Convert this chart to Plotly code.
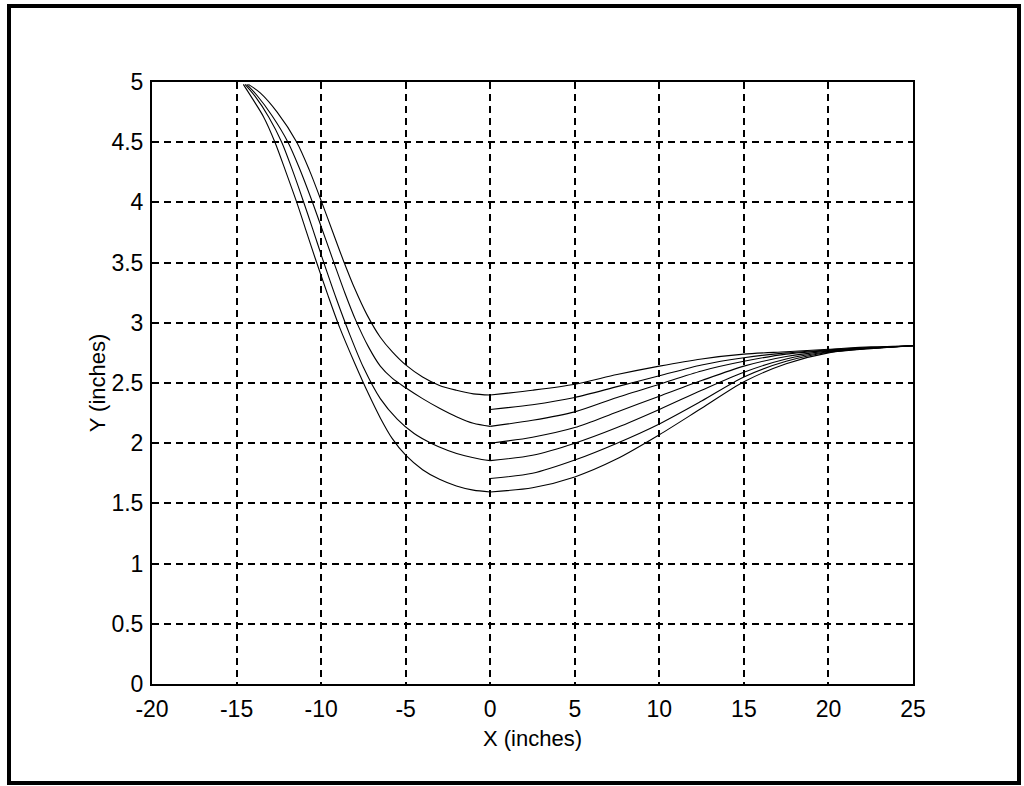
import plotly.graph_objects as go

# ---- data ----
# left branch (upstream) curves: x and y
left_a_x = [-14.3, -13.6, -12.6, -11.44, -10.7, -9.96, -9.3, -8.69, -8.0, -7.3, -6.5, -5.8, -5.0, -4.0, -3.0, -2.0, -1.0, 0.0]
left_a_y = [4.98, 4.91, 4.75, 4.50, 4.27, 4.00, 3.75, 3.52, 3.28, 3.07, 2.88, 2.76, 2.65, 2.55, 2.48, 2.44, 2.41, 2.40]

left_b_x = [-14.4, -13.8, -12.9, -11.96, -11.3, -10.56, -10.0, -9.37, -8.6, -7.95, -7.2, -6.5, -5.8, -5.0, -4.0, -3.0, -2.0, -1.0, 0.0]
left_b_y = [4.98, 4.89, 4.72, 4.50, 4.29, 4.02, 3.80, 3.55, 3.25, 3.02, 2.80, 2.64, 2.54, 2.46, 2.37, 2.29, 2.22, 2.165, 2.14]

left_c_x = [-14.5, -13.9, -13.1, -12.33, -11.7, -11.05, -10.5, -9.96, -9.1, -8.3, -7.5, -6.5, -5.5, -4.5, -3.5, -2.5, -1.5, -0.5, 0.0]
left_c_y = [4.98, 4.88, 4.71, 4.50, 4.27, 4.01, 3.78, 3.55, 3.20, 2.90, 2.63, 2.37, 2.20, 2.08, 2.00, 1.94, 1.895, 1.865, 1.855]

left_d_x = [-14.6, -14.1, -13.4, -12.73, -12.1, -11.44, -10.9, -10.36, -9.6, -8.9, -8.0, -7.2, -6.5, -5.8, -5.0, -4.0, -3.0, -2.0, -1.0, 0.0]
left_d_y = [4.98, 4.87, 4.71, 4.50, 4.26, 4.00, 3.77, 3.54, 3.23, 2.96, 2.66, 2.41, 2.21, 2.04, 1.90, 1.78, 1.70, 1.645, 1.61, 1.595]

# right branch (downstream) curves, common x
right_x = [0, 2.5, 5, 7.5, 10, 12.5, 15, 17.5, 20, 22.5, 25]
right_1 = [2.40, 2.44, 2.49, 2.57, 2.64, 2.70, 2.74, 2.76, 2.78, 2.80, 2.81]
right_2 = [2.28, 2.32, 2.38, 2.47, 2.56, 2.65, 2.71, 2.75, 2.775, 2.795, 2.81]
right_3 = [2.14, 2.19, 2.26, 2.38, 2.49, 2.60, 2.68, 2.74, 2.77, 2.79, 2.81]
right_4 = [2.00, 2.05, 2.13, 2.26, 2.39, 2.52, 2.64, 2.72, 2.765, 2.79, 2.81]
right_5 = [1.855, 1.90, 2.00, 2.13, 2.28, 2.44, 2.59, 2.70, 2.76, 2.79, 2.81]
right_6 = [1.707, 1.75, 1.86, 2.00, 2.16, 2.35, 2.55, 2.68, 2.755, 2.79, 2.81]
right_7 = [1.595, 1.63, 1.72, 1.87, 2.07, 2.29, 2.51, 2.66, 2.75, 2.785, 2.81]

x_ticks = [-20, -15, -10, -5, 0, 5, 10, 15, 20, 25]
x_tick_text = ["-20", "-15", "-10", "-5", "0", "5", "10", "15", "20", "25"]
y_ticks = [0, 0.5, 1, 1.5, 2, 2.5, 3, 3.5, 4, 4.5, 5]
y_tick_text = ["0", "0.5", "1", "1.5", "2", "2.5", "3", "3.5", "4", "4.5", "5"]

FONT = "Liberation Sans, Arial, sans-serif"

fig = go.Figure()
line_style = dict(color="black", width=1.1, shape="spline", smoothing=0.8)

for xs, ys in [(left_a_x, left_a_y), (left_b_x, left_b_y), (left_c_x, left_c_y), (left_d_x, left_d_y)]:
    fig.add_trace(go.Scatter(x=xs, y=ys, mode="lines", line=line_style, showlegend=False, hoverinfo="skip"))

for ys in [right_1, right_2, right_3, right_4, right_5, right_6, right_7]:
    fig.add_trace(go.Scatter(x=right_x, y=ys, mode="lines", line=line_style, showlegend=False, hoverinfo="skip"))

L, R, T, B = 152, 111, 82, 102
W, H = 1024, 786
pw, ph = W - L - R, H - T - B

def px(xp):
    return (xp - L) / pw

def py(yp):
    return (H - B - yp) / ph

fig.add_shape(type="rect", xref="paper", yref="paper",
              x0=px(9), x1=px(1019), y0=py(783), y1=py(6),
              line=dict(color="black", width=4), fillcolor="rgba(0,0,0,0)", layer="above")

axis_common = dict(
    showgrid=True, gridcolor="black", gridwidth=1.6, griddash="7px,5px",
    showline=True, linecolor="black", linewidth=2, mirror=True,
    zeroline=False, ticks="", color="black",
    tickfont=dict(family=FONT, size=23, color="black"),
)

fig.update_layout(
    width=W, height=H, autosize=False,
    margin=dict(l=L, r=R, t=T, b=B),
    paper_bgcolor="white", plot_bgcolor="white",
    xaxis=dict(range=[-20, 25], tickvals=x_ticks, ticktext=x_tick_text,
               title=dict(text="X (inches)", font=dict(family=FONT, size=22, color="black"), standoff=10),
               ticklabelstandoff=3, **axis_common),
    yaxis=dict(range=[0, 5], tickvals=y_ticks, ticktext=y_tick_text,
               title=dict(text="Y (inches)", font=dict(family=FONT, size=22, color="black"), standoff=0),
               ticklabelstandoff=2, **axis_common),
)

fig.write_html("out.html")
